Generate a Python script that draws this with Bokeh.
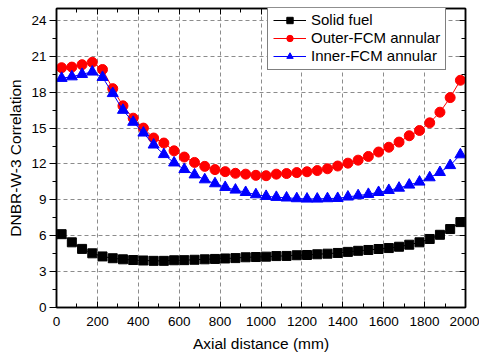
from bokeh.plotting import figure
from bokeh.models import Range1d, LinearAxis, SingleIntervalTicker, Legend, LegendItem
from bokeh.embed import file_html
from bokeh.resources import INLINE

axial_mm = [25, 75, 125, 175, 225, 275, 325, 375, 425, 475,
            525, 575, 625, 675, 725, 775, 825, 875, 925, 975,
            1025, 1075, 1125, 1175, 1225, 1275, 1325, 1375, 1425, 1475,
            1525, 1575, 1625, 1675, 1725, 1775, 1825, 1875, 1925, 1975]

solid_fuel = [6.13, 5.45, 4.90, 4.53, 4.27, 4.12, 4.03, 3.97, 3.93, 3.90,
              3.90, 3.95, 3.96, 3.99, 4.03, 4.06, 4.10, 4.13, 4.20, 4.22,
              4.25, 4.30, 4.31, 4.37, 4.39, 4.45, 4.50, 4.56, 4.65, 4.74,
              4.81, 4.89, 4.97, 5.08, 5.25, 5.45, 5.73, 6.08, 6.56, 7.14]

outer_fcm = [20.05, 20.10, 20.30, 20.50, 19.90, 18.30, 16.86, 15.83, 15.00, 14.17,
             13.75, 13.10, 12.58, 12.13, 11.80, 11.53, 11.36, 11.22, 11.15, 11.05,
             11.02, 11.15, 11.20, 11.28, 11.35, 11.45, 11.60, 11.83, 12.07, 12.32,
             12.63, 13.00, 13.40, 13.83, 14.36, 14.80, 15.44, 16.33, 17.55, 19.00]

inner_fcm = [19.17, 19.30, 19.50, 19.70, 19.25, 17.90, 16.50, 15.50, 14.60, 13.60,
             12.80, 12.10, 11.55, 11.10, 10.69, 10.36, 10.05, 9.83, 9.63, 9.44,
             9.30, 9.22, 9.17, 9.11, 9.08, 9.08, 9.11, 9.13, 9.25, 9.36,
             9.47, 9.63, 9.80, 9.99, 10.25, 10.50, 10.86, 11.30, 11.88, 12.78]

series_labels = ["Solid fuel", "Outer-FCM annular", "Inner-FCM annular"]

FONT = "Liberation Sans"

p = figure(width=479, height=354, x_range=Range1d(0, 2000), y_range=Range1d(0, 25),
           output_backend="svg", toolbar_location=None,
           min_border_left=56, min_border_right=14, min_border_top=8, min_border_bottom=46)
p.background_fill_color = "white"
p.border_fill_color = "white"
p.outline_line_color = "black"
p.outline_line_width = 1.5

xt = SingleIntervalTicker(interval=200, num_minor_ticks=2)
yt = SingleIntervalTicker(interval=3, num_minor_ticks=2)

xa = p.xaxis[0]
xa.ticker = xt
xa.axis_label = "Axial distance (mm)"
ya = p.yaxis[0]
ya.ticker = yt
ya.axis_label = "DNBR-W-3 Correlation"

for ax in (xa, ya):
    ax.axis_line_width = 1.5
    ax.axis_line_color = "black"
    ax.major_tick_line_color = "black"
    ax.minor_tick_line_color = "black"
    ax.major_label_text_font = FONT
    ax.major_label_text_font_size = "13.5px"
    ax.major_label_text_color = "black"
    ax.axis_label_text_font = FONT
    ax.axis_label_text_font_size = "15.5px"
    ax.axis_label_text_font_style = "normal"
    ax.axis_label_text_color = "black"

xa.major_tick_in = 6
xa.major_tick_out = 0
xa.minor_tick_in = 4
xa.minor_tick_out = 0
xa.major_label_standoff = 9
xa.axis_label_standoff = 6

ya.major_tick_in = 0
ya.major_tick_out = 7
ya.minor_tick_in = 0
ya.minor_tick_out = 4
ya.major_label_standoff = 3
ya.axis_label_standoff = 4

top = LinearAxis(ticker=SingleIntervalTicker(interval=200, num_minor_ticks=2))
right = LinearAxis(ticker=SingleIntervalTicker(interval=3, num_minor_ticks=2))
for ax in (top, right):
    ax.major_label_text_font_size = "0px"
    ax.major_label_text_color = None
    ax.major_label_standoff = 0
    ax.major_tick_in = 6
    ax.major_tick_out = 0
    ax.minor_tick_in = 4
    ax.minor_tick_out = 0
    ax.axis_line_width = 1.5
    ax.axis_line_color = "black"
p.add_layout(top, "above")
p.add_layout(right, "right")

p.xgrid.ticker = xt
p.ygrid.ticker = yt
for g in (p.xgrid[0], p.ygrid[0]):
    g.grid_line_color = "#8c8c8c"
    g.grid_line_dash = "4 3"
    g.grid_line_width = 1

items = []
l1 = p.line(axial_mm, solid_fuel, line_color="black", line_width=1)
m1 = p.scatter(axial_mm, solid_fuel, marker="square", size=9, fill_color="black", line_color="black")
items.append(LegendItem(label=series_labels[0], renderers=[l1, m1]))
l2 = p.line(axial_mm, outer_fcm, line_color="#ff0000", line_width=1)
m2 = p.scatter(axial_mm, outer_fcm, marker="circle", size=10, fill_color="#ff0000", line_color="#ff0000")
items.append(LegendItem(label=series_labels[1], renderers=[l2, m2]))
l3 = p.line(axial_mm, inner_fcm, line_color="#0000ff", line_width=1)
m3 = p.scatter(axial_mm, inner_fcm, marker="triangle", size=11, fill_color="#0000ff", line_color="#0000ff")
items.append(LegendItem(label=series_labels[2], renderers=[l3, m3]))

legend = Legend(items=items, location=(211, 237))
legend.label_text_font = FONT
legend.label_text_font_size = "15px"
legend.label_text_color = "black"
legend.border_line_color = "black"
legend.border_line_width = 1.5
legend.background_fill_color = "white"
legend.background_fill_alpha = 1
legend.padding = 5
legend.spacing = 1
legend.margin = 0
legend.label_height = 16
legend.glyph_height = 16
legend.glyph_width = 33
legend.label_standoff = 5
p.add_layout(legend, "center")

open("out.html", "w").write(file_html(p, INLINE))
